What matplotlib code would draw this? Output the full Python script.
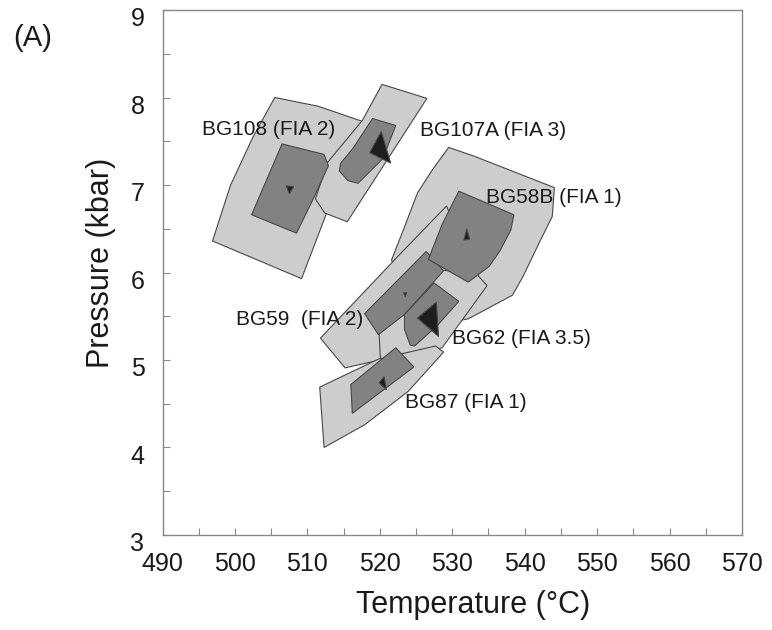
import matplotlib
matplotlib.use("Agg")
import matplotlib.pyplot as plt
from matplotlib.patches import Polygon
from matplotlib.ticker import MultipleLocator
import matplotlib.transforms as mtransforms

plt.rcParams['font.family'] = ['Liberation Sans', 'DejaVu Sans']

# ---- data: polygon vertices (Temperature °C, Pressure kbar) ----
bg108_outer_T = [505.5, 511.5, 517.5, 509.2, 496.9, 499.4, 502.5]
bg108_outer_P = [8.00, 7.90, 7.73, 5.93, 6.36, 7.00, 7.55]
bg108_inner_T = [506.5, 512.3, 512.9, 510.8, 508.5, 502.3]
bg108_inner_P = [7.47, 7.35, 7.22, 6.84, 6.45, 6.66]
bg108_tri_T = [507.1, 508.1, 507.5]
bg108_tri_P = [6.99, 6.98, 6.90]

bg107a_outer_T = [520.3, 526.5, 515.5, 512.4, 511.1, 512.8, 517.6]
bg107a_outer_P = [8.15, 7.99, 6.58, 6.68, 6.84, 7.26, 7.74]
bg107a_inner_T = [519.0, 522.2, 520.4, 517.0, 515.6, 514.4, 514.6, 516.3]
bg107a_inner_P = [7.76, 7.68, 7.30, 7.02, 7.05, 7.16, 7.25, 7.42]
bg107a_tri_T = [520.2, 518.6, 521.5]
bg107a_tri_P = [7.61, 7.37, 7.25]

bg58b_outer_T = [529.5, 533.0, 544.1, 543.8, 542.0, 539.8, 538.3, 532.2, 530.9, 524.5, 521.6, 523.4, 525.2, 527.3]
bg58b_outer_P = [7.43, 7.33, 6.97, 6.64, 6.34, 5.96, 5.74, 5.47, 5.45, 5.80, 6.14, 6.52, 6.91, 7.18]
bg58b_inner_T = [530.9, 538.5, 538.1, 536.6, 535.1, 532.2, 526.7, 528.6]
bg58b_inner_P = [6.93, 6.66, 6.49, 6.25, 6.07, 5.89, 6.15, 6.55]
bg58b_tri_T = [532.0, 531.6, 532.4]
bg58b_tri_P = [6.50, 6.37, 6.38]

bg59_outer_T = [511.8, 522.2, 529.2, 530.3, 527.0, 520.0, 515.2]
bg59_outer_P = [5.25, 6.16, 6.76, 6.55, 5.90, 5.00, 4.91]
bg59_inner_T = [517.9, 526.4, 528.8, 523.4, 519.8]
bg59_inner_P = [5.53, 6.24, 6.02, 5.52, 5.29]
bg59_tri_T = [523.3, 523.7, 523.5]
bg59_tri_P = [5.77, 5.77, 5.72]

bg62_outer_T = [519.9, 528.4, 533.4, 534.8, 528.6, 520.1]
bg62_outer_P = [5.30, 6.03, 5.98, 5.85, 5.14, 4.97]
bg62_inner_T = [527.5, 530.9, 528.0, 524.8, 524.2, 523.4, 523.4]
bg62_inner_P = [5.88, 5.67, 5.40, 5.16, 5.17, 5.35, 5.52]
bg62_tri_T = [527.8, 525.2, 528.1]
bg62_tri_P = [5.66, 5.48, 5.27]

bg87_outer_T = [511.7, 519.8, 527.7, 528.8, 523.9, 517.9, 512.3]
bg87_outer_P = [4.69, 5.01, 5.16, 5.09, 4.64, 4.26, 4.00]
bg87_inner_T = [522.2, 524.7, 516.2, 516.0]
bg87_inner_P = [5.14, 4.92, 4.39, 4.72]
bg87_tri_T = [520.6, 519.9, 520.9]
bg87_tri_P = [4.81, 4.74, 4.66]

labels = ["BG108 (FIA 2)", "BG107A (FIA 3)", "BG58B (FIA 1)",
          "BG59  (FIA 2)", "BG62 (FIA 3.5)", "BG87 (FIA 1)"]
label_T = [495.4, 525.6, 534.6, 500.1, 530.0, 523.5]
label_P = [7.64, 7.62, 6.86, 5.46, 5.25, 4.52]

x_ticks = [490, 500, 510, 520, 530, 540, 550, 560, 570]
y_ticks = [3, 4, 5, 6, 7, 8, 9]

# ---- styles ----
LIGHT = '#cdcdcd'
DARK = '#828282'
TRI = '#1e1e1e'
EDGE = '#484848'

fig = plt.figure(figsize=(7.72, 6.30), dpi=100)
ax = fig.add_axes([0.2105, 0.1508, 0.7507, 0.8333])

def poly(T, P, color, z):
    ax.add_patch(Polygon(list(zip(T, P)), closed=True, facecolor=color,
                         edgecolor=EDGE, linewidth=0.8, zorder=z))

# upper group
poly(bg108_outer_T, bg108_outer_P, LIGHT, 1)
poly(bg107a_outer_T, bg107a_outer_P, LIGHT, 2)
poly(bg108_inner_T, bg108_inner_P, DARK, 3)
poly(bg107a_inner_T, bg107a_inner_P, DARK, 3)
poly(bg108_tri_T, bg108_tri_P, TRI, 5)
poly(bg107a_tri_T, bg107a_tri_P, TRI, 5)

# lower group
poly(bg58b_outer_T, bg58b_outer_P, LIGHT, 1)
poly(bg59_outer_T, bg59_outer_P, LIGHT, 1.1)
poly(bg62_outer_T, bg62_outer_P, LIGHT, 1.2)
poly(bg87_outer_T, bg87_outer_P, LIGHT, 1.3)
poly(bg59_inner_T, bg59_inner_P, DARK, 3)
poly(bg62_inner_T, bg62_inner_P, DARK, 3.1)
poly(bg87_inner_T, bg87_inner_P, DARK, 3.2)
poly(bg58b_inner_T, bg58b_inner_P, DARK, 3.3)
poly(bg58b_tri_T, bg58b_tri_P, TRI, 5)
poly(bg59_tri_T, bg59_tri_P, TRI, 5)
poly(bg62_tri_T, bg62_tri_P, TRI, 5)
poly(bg87_tri_T, bg87_tri_P, TRI, 5)

for s, t, p in zip(labels, label_T, label_P):
    ax.text(t, p, s, fontsize=15, color='#1a1a1a', ha='left', va='center', zorder=6)

ax.set_xlim(490, 570)
ax.set_ylim(3, 9)
ax.set_xticks(x_ticks)
ax.set_yticks(y_ticks)
ax.xaxis.set_minor_locator(MultipleLocator(5))
ax.yaxis.set_minor_locator(MultipleLocator(0.5))
ax.tick_params(which='both', direction='in', length=5, width=0.8, color='#888888',
               top=False, right=False)
ax.tick_params(axis='x', labelsize=18, pad=12.5, labelcolor='#1a1a1a')
ax.tick_params(axis='y', labelsize=18, pad=13, labelcolor='#1a1a1a')
for sp in ax.spines.values():
    sp.set_color('#888888')
    sp.set_linewidth(1.0)

off = mtransforms.ScaledTranslation(0, -5 / 72, fig.dpi_scale_trans)
for lab in ax.get_yticklabels():
    lab.set_transform(lab.get_transform() + off)

ax.set_xlabel('Temperature (°C)', fontsize=22, color='#1a1a1a')
ax.set_ylabel('Pressure (kbar)', fontsize=22, color='#1a1a1a')
ax.xaxis.set_label_coords(0.536, -0.133)
ax.yaxis.set_label_coords(-0.106, 0.519)
ax.xaxis.label.set_va('center')
ax.yaxis.label.set_va('center')

fig.text(33 / 772, 1 - 38 / 630, '(A)', fontsize=21, color='#1a1a1a',
         ha='center', va='center')

fig.savefig('out.png', dpi=100)
